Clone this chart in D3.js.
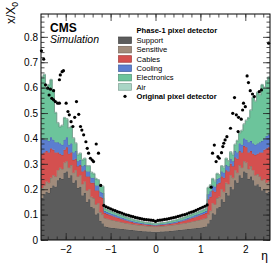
<!DOCTYPE html>
<html>
<head>
<meta charset="utf-8">
<script src="https://cdn.jsdelivr.net/npm/d3@7"></script>
<style>
body { margin: 0; background: #fff; }
text { font-family: "Liberation Sans", Arial, sans-serif; }
</style>
</head>
<body>
<svg id="chart"></svg>
<script>
// eta bin centres (bin width 0.05)
var etaBins = [-2.525,-2.475,-2.425,-2.375,-2.325,-2.275,-2.225,-2.175,-2.125,-2.075,-2.025,-1.975,-1.925,-1.875,-1.825,-1.775,-1.725,-1.675,-1.625,-1.575,-1.525,-1.475,-1.425,-1.375,-1.325,-1.275,-1.225,-1.175,
    -1.125,-1.075,-1.025,-0.975,-0.925,-0.875,-0.825,-0.775,-0.725,-0.675,-0.625,-0.575,-0.525,-0.475,-0.425,-0.375,-0.325,-0.275,-0.225,-0.175,-0.125,-0.075,-0.025,
    0.025,0.075,0.125,0.175,0.225,0.275,0.325,0.375,0.425,0.475,0.525,0.575,0.625,0.675,0.725,0.775,0.825,0.875,0.925,0.975,1.025,1.075,1.125,
    1.175,1.225,1.275,1.325,1.375,1.425,1.475,1.525,1.575,1.625,1.675,1.725,1.775,1.825,1.875,1.925,1.975,2.025,2.075,2.125,2.175,2.225,2.275,2.325,2.375,2.425,2.475,2.525];

var support = [.165,.180,.190,.185,.205,.215,.210,.235,.245,.240,.265,.270,.245,.255,.225,.235,.205,.210,.175,.185,.150,.160,.130,.125,.100,.105,.075,.065,
    .053,.051,.049,.048,.047,.046,.045,.044,.043,.042,.041,.040,.039,.038,.037,.036,.035,.034,.034,.033,.033,.032,.032,
    .032,.032,.033,.033,.034,.034,.035,.036,.037,.038,.039,.040,.041,.042,.043,.044,.045,.046,.047,.048,.049,.051,.053,
    .065,.080,.105,.100,.125,.130,.160,.150,.185,.175,.210,.200,.235,.225,.255,.245,.270,.265,.240,.250,.235,.215,.220,.210,.195,.200,.185,.190];
var sensitive = [.040,.035,.040,.040,.040,.040,.040,.040,.040,.040,.040,.040,.040,.040,.040,.040,.045,.045,.045,.045,.045,.040,.040,.040,.040,.040,.035,.035,
    .034,.033,.032,.031,.030,.029,.028,.027,.026,.025,.025,.024,.024,.023,.023,.023,.023,.023,.022,.022,.022,.022,.021,
    .021,.022,.022,.022,.022,.023,.023,.023,.023,.023,.024,.024,.025,.025,.026,.027,.028,.029,.030,.031,.032,.033,.034,
    .035,.035,.040,.040,.040,.040,.040,.040,.040,.045,.045,.045,.040,.040,.040,.040,.040,.040,.040,.040,.040,.040,.040,.040,.040,.040,.040,.040];
var cables = [.135,.130,.120,.120,.115,.100,.095,.070,.055,.055,.050,.055,.055,.050,.050,.045,.040,.040,.050,.045,.055,.050,.055,.060,.055,.050,.060,.065,
    .019,.018,.018,.017,.016,.015,.014,.013,.012,.011,.010,.009,.008,.007,.006,.006,.005,.005,.005,.005,.004,.004,.004,
    .004,.004,.004,.005,.005,.005,.005,.006,.006,.007,.008,.009,.010,.011,.012,.013,.014,.015,.016,.017,.018,.018,.019,
    .060,.055,.050,.050,.055,.055,.050,.055,.050,.050,.045,.045,.050,.055,.055,.060,.060,.060,.065,.060,.065,.080,.080,.095,.110,.115,.135,.135];
var cooling = [.060,.050,.045,.045,.045,.040,.040,.040,.040,.040,.040,.040,.035,.035,.030,.030,.020,.020,.020,.020,.020,.020,.020,.020,.020,.020,.020,.020,
    .008,.008,.007,.007,.007,.007,.007,.006,.006,.006,.005,.005,.005,.005,.005,.004,.004,.004,.003,.003,.003,.003,.003,
    .003,.003,.003,.003,.003,.004,.004,.004,.005,.005,.005,.005,.005,.006,.006,.006,.007,.007,.007,.007,.007,.008,.008,
    .020,.022,.020,.020,.020,.020,.020,.020,.020,.020,.020,.020,.025,.025,.030,.030,.030,.030,.040,.040,.040,.040,.040,.040,.045,.045,.050,.050];
var electronics = [.240,.255,.205,.220,.225,.195,.115,.075,.065,.075,.085,.070,.065,.065,.055,.030,.025,.025,.025,.025,.020,.020,.020,.015,.025,.020,.025,.025,
    .009,.009,.009,.009,.008,.008,.008,.008,.008,.007,.007,.007,.006,.006,.006,.006,.006,.005,.005,.005,.005,.005,.005,
    .005,.005,.005,.005,.005,.005,.006,.006,.006,.006,.006,.007,.007,.007,.008,.008,.008,.008,.008,.009,.009,.009,.009,
    .025,.023,.025,.020,.020,.010,.020,.020,.025,.020,.025,.025,.025,.045,.040,.055,.055,.075,.095,.120,.180,.170,.200,.185,.220,.200,.215,.225];
var air = [.003,.003,.003,.003,.003,.003,.003,.003,.003,.003,.003,.003,.003,.003,.003,.003,.003,.003,.003,.003,.003,.003,.003,.003,.003,.003,.003,.003,
    .001,.001,.001,.001,.001,.001,.001,.001,.001,.001,.001,.001,.001,.001,.001,.001,.001,.001,.001,.001,.001,.001,.001,
    .001,.001,.001,.001,.001,.001,.001,.001,.001,.001,.001,.001,.001,.001,.001,.001,.001,.001,.001,.001,.001,.001,.001,
    .003,.003,.003,.003,.003,.003,.003,.003,.003,.003,.003,.003,.003,.003,.003,.003,.003,.003,.003,.003,.003,.003,.003,.003,.003,.003,.003,.003];

// original pixel detector (markers)
var origEta = [-2.54,-2.49,-2.45,-2.40,-2.37,-2.34,-2.31,-2.27,-2.27,-2.23,-2.18,-2.14,-2.14,-2.12,-2.08,-2.05,-1.99,-1.95,-1.92,-1.88,-1.84,-1.80,-1.76,-1.71,-1.67,-1.64,-1.60,-1.55,-1.52,-1.49,-1.45,-1.41,-1.38,-1.32,-1.27,-1.22,
    -1.15,-1.10,-1.05,-1.00,-0.95,-0.90,-0.85,-0.80,-0.75,-0.70,-0.65,-0.60,-0.55,-0.50,-0.45,-0.40,-0.35,-0.30,-0.25,-0.20,-0.15,-0.10,-0.05,
    0.00,0.05,0.10,0.15,0.20,0.25,0.30,0.35,0.40,0.45,0.50,0.55,0.60,0.65,0.70,0.75,0.80,0.85,0.90,0.95,1.00,1.05,1.10,1.15,
    1.24,1.27,1.31,1.35,1.39,1.42,1.47,1.50,1.52,1.55,1.59,1.67,1.72,1.76,1.80,1.84,1.85,1.91,1.94,1.96,2.00,2.04,2.07,2.11,2.16,2.20,2.31,2.36,2.52];
var origX0 = [.745,.712,.611,.598,.571,.594,.558,.588,.552,.545,.539,.539,.631,.650,.663,.667,.539,.506,.493,.466,.447,.483,.545,.495,.447,.433,.414,.387,.361,.342,.322,.315,.309,.378,.342,.215,
    .136,.131,.127,.123,.119,.116,.112,.109,.106,.102,.099,.097,.094,.092,.089,.087,.085,.083,.081,.080,.079,.078,.077,
    .073,.077,.078,.079,.081,.082,.084,.086,.088,.090,.093,.095,.098,.100,.103,.107,.110,.113,.117,.121,.125,.129,.133,.138,
    .208,.342,.374,.309,.328,.322,.344,.368,.381,.394,.407,.440,.499,.561,.493,.427,.483,.476,.512,.539,.525,.646,.620,.588,.575,.565,.584,.591,.775];

var yTicks = [0, 0.1, 0.2, 0.3, 0.4, 0.5, 0.6, 0.7, 0.8];
var xTicks = [-2, -1, 0, 1, 2];

var keys = ["support", "sensitive", "cables", "cooling", "electronics", "air"];
var labels = ["Support", "Sensitive", "Cables", "Cooling", "Electronics", "Air"];
var colors = ["#5c5c5c", "#a08b7b", "#d4504f", "#5b7ed0", "#6cc49b", "#a9d5c5"];

var width = 275, height = 267;
var padL = 41, padR = 270, padT = 14, padB = 240;
var halfBin = 0.025;

var svg = d3.select("#chart").attr("width", width).attr("height", height);

var xScale = d3.scaleLinear().domain([-2.55, 2.55]).range([padL, padR]);
var yScale = d3.scaleLinear().domain([0, 0.89]).range([padB, padT]);

var rows = etaBins.map(function(e, i) {
    return {eta: e, support: support[i], sensitive: sensitive[i], cables: cables[i],
            cooling: cooling[i], electronics: electronics[i], air: air[i]};
});
var stacked = d3.stack().keys(keys)(rows);

// step points at the bin edges
function stepPoints(layer) {
    var pts = [];
    layer.forEach(function(d) {
        pts.push({x: d.data.eta - halfBin, y0: d[0], y1: d[1]});
        pts.push({x: d.data.eta + halfBin, y0: d[0], y1: d[1]});
    });
    return pts;
}

var area = d3.area()
    .x(d => xScale(d.x))
    .y0(d => yScale(d.y0))
    .y1(d => yScale(d.y1));
var topLine = d3.line()
    .x(d => xScale(d.x))
    .y(d => yScale(d.y1));

var plot = svg.append("g");
stacked.forEach(function(layer, i) {
    var pts = stepPoints(layer);
    plot.append("path")
        .attr("d", area(pts))
        .attr("fill", colors[i]);
    plot.append("path")
        .attr("d", topLine(pts))
        .attr("fill", "none")
        .attr("stroke", d3.color(colors[i]).darker(0.8))
        .attr("stroke-width", 0.7);
});

// original detector markers
svg.append("g")
    .selectAll("circle")
    .data(origEta)
    .enter()
    .append("circle")
        .attr("cx", (d, i) => xScale(d))
        .attr("cy", (d, i) => yScale(origX0[i]))
        .attr("r", 1.6)
        .attr("fill", "#000");

// frame
svg.append("rect")
    .attr("x", padL).attr("y", padT)
    .attr("width", padR - padL).attr("height", padB - padT)
    .attr("fill", "none").attr("stroke", "#000").attr("stroke-width", 1);

var yMinor = d3.range(0, 0.89, 0.02);
var xMinor = d3.range(-2.4, 2.55, 0.2);

function drawAxis(axis, tx, ty) {
    var g = svg.append("g")
        .attr("transform", "translate(" + tx + "," + ty + ")")
        .call(axis);
    g.select(".domain").remove();
    g.selectAll("line").attr("stroke", "#222").attr("stroke-width", 0.8);
    g.selectAll("text").attr("font-size", 10).attr("fill", "#000")
        .style("font-family", "'Liberation Sans', Arial, sans-serif");
    return g;
}

var fmtY = d => d === 0 ? "0" : d3.format(".1f")(d);
var fmtX = d3.format("d");

drawAxis(d3.axisLeft(yScale).tickValues(yTicks).tickFormat(fmtY).tickSizeInner(-7).tickSizeOuter(0).tickPadding(3), padL, 0);
drawAxis(d3.axisLeft(yScale).tickValues(yMinor).tickFormat("").tickSizeInner(-3.5).tickSizeOuter(0), padL, 0);
drawAxis(d3.axisRight(yScale).tickValues(yTicks).tickFormat("").tickSizeInner(-7).tickSizeOuter(0), padR, 0);
drawAxis(d3.axisRight(yScale).tickValues(yMinor).tickFormat("").tickSizeInner(-3.5).tickSizeOuter(0), padR, 0);

drawAxis(d3.axisBottom(xScale).tickValues(xTicks).tickFormat(fmtX).tickSizeInner(-7).tickSizeOuter(0).tickPadding(5.5), 0, padB);
drawAxis(d3.axisBottom(xScale).tickValues(xMinor).tickFormat("").tickSizeInner(-3.5).tickSizeOuter(0), 0, padB);
drawAxis(d3.axisTop(xScale).tickValues(xTicks).tickFormat("").tickSizeInner(-7).tickSizeOuter(0), 0, padT);
drawAxis(d3.axisTop(xScale).tickValues(xMinor).tickFormat("").tickSizeInner(-3.5).tickSizeOuter(0), 0, padT);

// axis titles
var yTitle = svg.append("text")
    .attr("transform", "translate(15,2) rotate(-90)")
    .attr("text-anchor", "end")
    .attr("font-size", 12);
yTitle.append("tspan").text("x/X");
yTitle.append("tspan").attr("font-size", 8.5).attr("dy", 3).text("0");

svg.append("text")
    .attr("x", 268).attr("y", 260)
    .attr("text-anchor", "end")
    .attr("font-size", 12)
    .text("η");

// CMS label
svg.append("text")
    .attr("x", 50).attr("y", 31.5)
    .attr("font-size", 12).attr("font-weight", "bold")
    .text("CMS");
svg.append("text")
    .attr("x", 50).attr("y", 43)
    .attr("font-size", 10.5).attr("font-style", "italic")
    .text("Simulation");

// legend
var legX = 118.5, legTextX = 136.5, legY0 = 40.3, legStep = 9.33;
var legend = svg.append("g");
legend.append("text")
    .attr("x", legTextX).attr("y", 33)
    .attr("font-size", 7.6).attr("font-weight", "bold")
    .text("Phase-1 pixel detector");
labels.forEach(function(lab, i) {
    var cy = legY0 + i * legStep;
    legend.append("rect")
        .attr("x", legX).attr("y", cy - 3.3)
        .attr("width", 13).attr("height", 6.6)
        .attr("fill", colors[i])
        .attr("stroke", d3.color(colors[i]).darker(0.8))
        .attr("stroke-width", 0.7);
    legend.append("text")
        .attr("x", legTextX).attr("y", cy + 2.7)
        .attr("font-size", 7.6)
        .text(lab);
});
var origY = legY0 + labels.length * legStep;
legend.append("circle")
    .attr("cx", legX + 6.5).attr("cy", origY)
    .attr("r", 1.6).attr("fill", "#000");
legend.append("text")
    .attr("x", legTextX).attr("y", origY + 2.7)
    .attr("font-size", 7.6).attr("font-weight", "bold")
    .text("Original pixel detector");
</script>
</body>
</html>
